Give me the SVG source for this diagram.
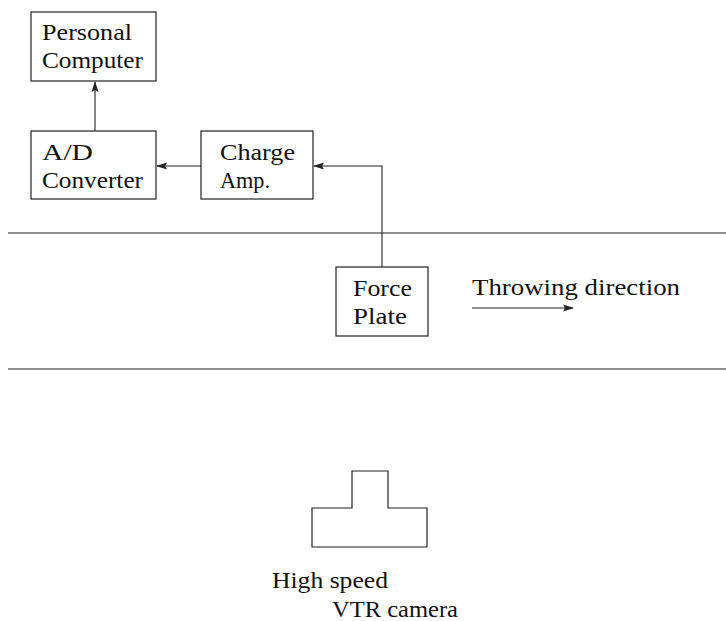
<svg xmlns="http://www.w3.org/2000/svg" width="726" height="621" viewBox="0 0 726 621">
<style>
.box{fill:none;stroke:#222;stroke-width:1.2}
.ln{fill:none;stroke:#222;stroke-width:1.1}
text{font-family:"Liberation Serif","Times New Roman",serif;font-size:22.5px;fill:#111}
</style>
<defs>
<marker id="ah" viewBox="0 0 11 8" refX="10" refY="4" markerWidth="11" markerHeight="8" markerUnits="userSpaceOnUse" orient="auto">
<path d="M0,0.5 L11,4 L0,7.5 L2,4 Z" fill="#222"/>
</marker>
</defs>
<rect width="726" height="621" fill="#fff"/>
<g id="lanes">
<line class="ln" x1="8" y1="233" x2="726" y2="233"/>
<line class="ln" x1="8" y1="369" x2="726" y2="369"/>
</g>
<g id="pc">
<rect class="box" x="31" y="12" width="125" height="69"/>
<text x="42" y="40" textLength="90" lengthAdjust="spacingAndGlyphs">Personal</text>
<text x="42" y="68" textLength="101" lengthAdjust="spacingAndGlyphs">Computer</text>
</g>
<g id="ad">
<rect class="box" x="31" y="131" width="125" height="68"/>
<text x="42" y="160" textLength="51" lengthAdjust="spacingAndGlyphs">A/D</text>
<text x="42" y="188" textLength="101" lengthAdjust="spacingAndGlyphs">Converter</text>
</g>
<g id="amp">
<rect class="box" x="201" y="131" width="112" height="68"/>
<text x="220" y="160" textLength="75" lengthAdjust="spacingAndGlyphs">Charge</text>
<text x="220" y="188" textLength="50" lengthAdjust="spacingAndGlyphs">Amp.</text>
</g>
<g id="plate">
<rect class="box" x="336" y="267" width="92" height="69"/>
<text x="353" y="296" textLength="59" lengthAdjust="spacingAndGlyphs">Force</text>
<text x="353" y="324" textLength="54" lengthAdjust="spacingAndGlyphs">Plate</text>
</g>
<g id="direction">
<text x="472" y="295" textLength="208" lengthAdjust="spacingAndGlyphs">Throwing direction</text>
<line class="ln" x1="472" y1="308" x2="573" y2="308" marker-end="url(#ah)"/>
</g>
<g id="camera">
<path class="box" d="M352,471 H388 V508 H427 V547 H312 V508 H352 Z"/>
<text x="272" y="588" textLength="116" lengthAdjust="spacingAndGlyphs">High speed</text>
<text x="332" y="617" textLength="126" lengthAdjust="spacingAndGlyphs">VTR camera</text>
</g>
<g id="connectors">
<line class="ln" x1="95" y1="131" x2="95" y2="82" marker-end="url(#ah)"/>
<line class="ln" x1="201" y1="166" x2="157" y2="166" marker-end="url(#ah)"/>
<polyline class="ln" points="382,267 382,166 314,166" marker-end="url(#ah)"/>
</g>
</svg>
